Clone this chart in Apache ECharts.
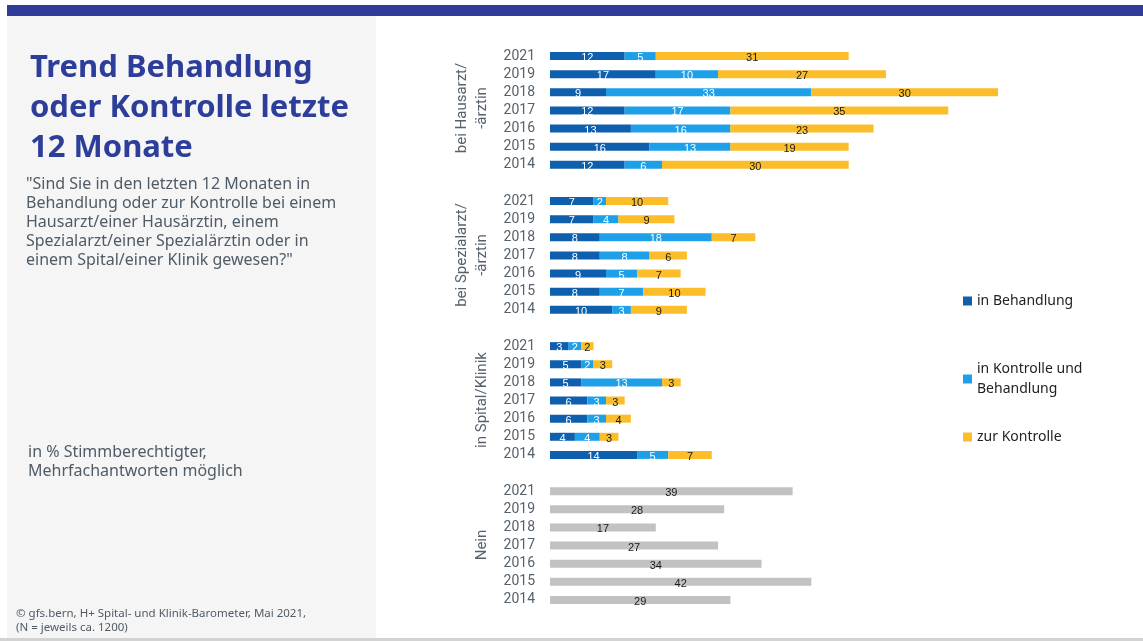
<!DOCTYPE html>
<html>
<head>
<meta charset="utf-8">
<script src="https://cdn.jsdelivr.net/npm/echarts@6/dist/echarts.min.js"></script>
<style>
  html, body { margin: 0; padding: 0; background: #ffffff; }
  #chart { width: 1143px; height: 641px; }
</style>
</head>
<body>
<div id="chart"></div>
<script>
// Survey years, newest first (no survey in 2020)
const years = ['2021', '2019', '2018', '2017', '2016', '2015', '2014'];

// Group labels on the left of each block of bars
const groupLabels = ['bei Hausarzt/\n-ärztin', 'bei Spezialarzt/\n-ärztin', 'in Spital/Klinik', 'Nein'];

// Series names
const seriesNames = ['in Behandlung', 'in Kontrolle und Behandlung', 'zur Kontrolle', 'Nein'];

// bei Hausarzt/-ärztin
const hausBehandlung = [12, 17, 9, 12, 13, 16, 12];
const hausBeides     = [5, 10, 33, 17, 16, 13, 6];
const hausKontrolle  = [31, 27, 30, 35, 23, 19, 30];

// bei Spezialarzt/-ärztin
const spezBehandlung = [7, 7, 8, 8, 9, 8, 10];
const spezBeides     = [2, 4, 18, 8, 5, 7, 3];
const spezKontrolle  = [10, 9, 7, 6, 7, 10, 9];

// in Spital/Klinik
const spitBehandlung = [3, 5, 5, 6, 6, 4, 14];
const spitBeides     = [2, 2, 13, 3, 3, 4, 5];
const spitKontrolle  = [2, 3, 3, 3, 4, 3, 7];

// Nein
const neinWerte = [39, 28, 17, 27, 34, 42, 29];

// One category row per year, with an empty spacer row between blocks
const gap = ['-'];
const categories = [].concat(years, [''], years, [''], years, [''], years);
const empty7 = years.map(() => '-');

const dataBehandlung = [].concat(hausBehandlung, gap, spezBehandlung, gap, spitBehandlung, gap, empty7);
const dataBeides     = [].concat(hausBeides, gap, spezBeides, gap, spitBeides, gap, empty7);
const dataKontrolle  = [].concat(hausKontrolle, gap, spezKontrolle, gap, spitKontrolle, gap, empty7);
const dataNein       = [].concat(empty7, gap, empty7, gap, empty7, gap, neinWerte);

const colors = ['#0e5fae', '#1ea0e8', '#fbbd29', '#c2c2c2'];
const labelColors = ['#ffffff', '#ffffff', '#1a1a1a', '#1a1a1a'];

const axisFont = "'Roboto', 'Noto Sans', sans-serif";
const textFont = "'Noto Sans', 'Open Sans', sans-serif";
const greyText = '#56616b';

const chart = echarts.init(document.getElementById('chart'), null, { renderer: 'canvas' });

function makeSeries(i, data) {
  return {
    name: seriesNames[i],
    type: 'bar',
    stack: 'total',
    barWidth: 8,
    data: data,
    itemStyle: { color: colors[i] },
    label: {
      show: true,
      position: 'inside',
      offset: [0, 2],
      color: labelColors[i],
      fontSize: 11,
      fontFamily: "'Liberation Sans', Arial, sans-serif",
      formatter: p => (p.value === '-' ? '' : p.value)
    },
    emphasis: { disabled: true },
    animation: false
  };
}

function legendItem(name, top, label) {
  return {
    data: [name],
    orient: 'vertical',
    left: 958,
    top: top,
    icon: 'rect',
    itemWidth: 9,
    itemHeight: 9,
    itemGap: 0,
    selectedMode: false,
    formatter: () => label,
    textStyle: {
      color: '#222222',
      fontSize: 14,
      lineHeight: 20,
      fontFamily: textFont,
      padding: label.indexOf('\n') >= 0 ? [20, 0, 0, 0] : 0
    }
  };
}

// Block labels, rotated, centred on each block of seven rows
const groupCenters = [108, 255, 400, 545];
const groupGraphics = groupLabels.map((t, i) => ({
  type: 'text',
  x: t.indexOf('\n') >= 0 ? 472 : 482,
  y: groupCenters[i],
  rotation: Math.PI / 2,
  silent: true,
  style: {
    text: t,
    fill: greyText,
    font: '15px ' + axisFont,
    lineHeight: 20,
    align: 'center',
    verticalAlign: 'middle'
  }
}));

const option = {
  backgroundColor: '#ffffff',
  animation: false,
  title: [
    {
      text: 'Trend Behandlung\noder Kontrolle letzte\n12 Monate',
      left: 25,
      top: 43,
      textStyle: {
        color: '#2d3d9a',
        fontSize: 31,
        fontWeight: 'bold',
        lineHeight: 40,
        fontFamily: textFont
      }
    },
    {
      text: '"Sind Sie in den letzten 12 Monaten in\nBehandlung oder zur Kontrolle bei einem\nHausarzt/einer Hausärztin, einem\nSpezialarzt/einer Spezialärztin oder in\neinem Spital/einer Klinik gewesen?"',
      left: 21,
      top: 170,
      textStyle: {
        color: '#4f5b66',
        fontSize: 16,
        fontWeight: 'normal',
        lineHeight: 19,
        fontFamily: textFont
      }
    },
    {
      text: 'in % Stimmberechtigter,\nMehrfachantworten möglich',
      left: 23,
      top: 438,
      textStyle: {
        color: '#4f5b66',
        fontSize: 16,
        fontWeight: 'normal',
        lineHeight: 19,
        fontFamily: textFont
      }
    },
    {
      text: '© gfs.bern, H+ Spital- und Klinik-Barometer, Mai 2021,\n(N = jeweils ca. 1200)',
      left: 11,
      top: 602,
      textStyle: {
        color: '#4f5b66',
        fontSize: 11.5,
        fontWeight: 'normal',
        lineHeight: 14,
        fontFamily: textFont
      }
    }
  ],
  legend: [
    legendItem(seriesNames[0], 286, 'in Behandlung'),
    legendItem(seriesNames[1], 344, 'in Kontrolle und\nBehandlung'),
    legendItem(seriesNames[2], 422, 'zur Kontrolle')
  ],
  grid: {
    left: 550,
    top: 47,
    width: 560,
    height: 562,
    containLabel: false
  },
  xAxis: {
    type: 'value',
    min: 0,
    max: 90,
    show: false
  },
  yAxis: {
    type: 'category',
    data: categories,
    inverse: true,
    axisLine: { show: false },
    axisTick: { show: false },
    splitLine: { show: false },
    axisLabel: {
      color: greyText,
      fontSize: 14,
      margin: 15,
      fontFamily: axisFont,
      interval: 0
    }
  },
  graphic: [
    // top rule
    { type: 'rect', shape: { x: 7, y: 5, width: 1136, height: 11 }, style: { fill: '#2f3d98' }, z: -10, silent: true },
    // left text panel
    { type: 'rect', shape: { x: 7, y: 16, width: 369, height: 622 }, style: { fill: '#f5f5f5' }, z: -10, silent: true },
    // bottom rule
    { type: 'rect', shape: { x: 0, y: 638, width: 1143, height: 3 }, style: { fill: '#d2d2d2' }, z: -10, silent: true }
  ].concat(groupGraphics),
  series: [
    makeSeries(0, dataBehandlung),
    makeSeries(1, dataBeides),
    makeSeries(2, dataKontrolle),
    makeSeries(3, dataNein)
  ]
};

chart.setOption(option);
</script>
</body>
</html>
